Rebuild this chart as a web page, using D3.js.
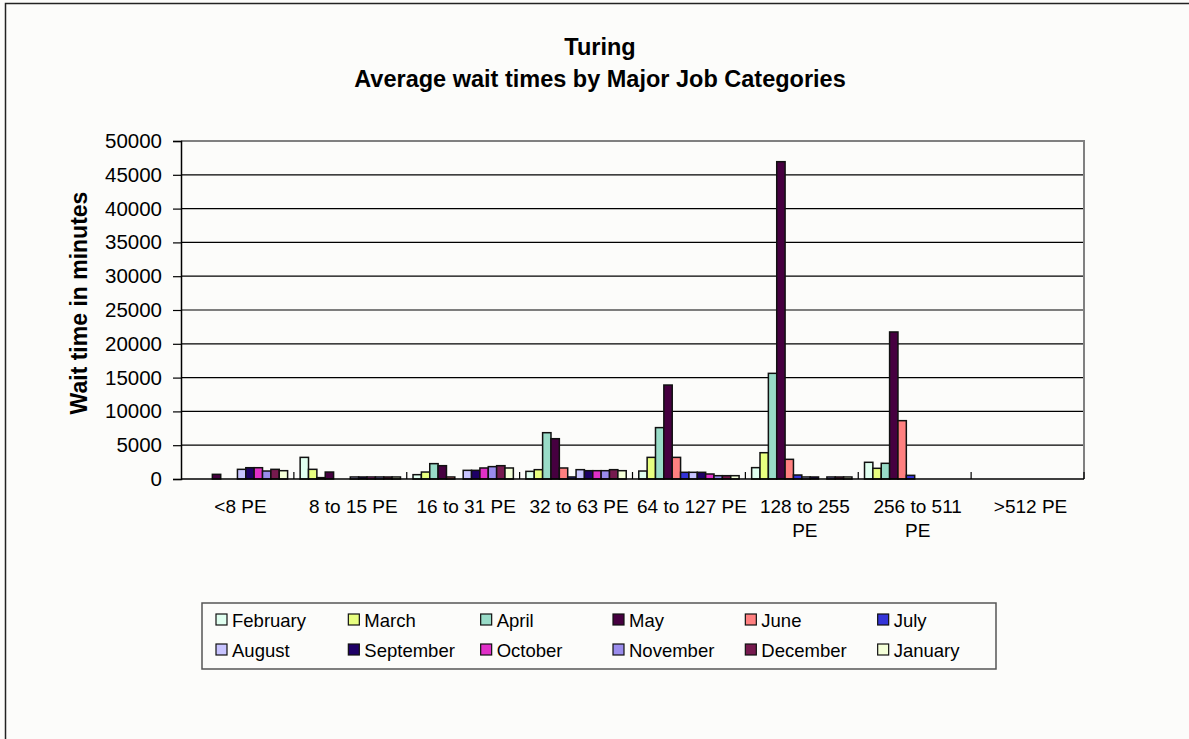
<!DOCTYPE html>
<html>
<head>
<meta charset="utf-8">
<script src="https://cdn.jsdelivr.net/npm/d3@7"></script>
<style>
  html, body { margin: 0; padding: 0; background: #fcfcfa; }
  svg { display: block; font-family: Arial, "Liberation Sans", sans-serif; }
</style>
</head>
<body>
<svg id="chart" width="1189" height="739"></svg>
<script>
// Job size categories (x axis)
const categories = ["<8 PE", "8 to 15 PE", "16 to 31 PE", "32 to 63 PE",
                    "64 to 127 PE", "128 to 255 PE", "256 to 511 PE", ">512 PE"];

// Months (series), in legend order
const months = ["February", "March", "April", "May", "June", "July",
                "August", "September", "October", "November", "December", "January"];

// Average wait time in minutes, one array per month across the categories
const february  = [0,    3200, 640,  1130, 1180,  1680,  2470,  0];
const march     = [0,    1430, 1030, 1380, 3200,  3890,  1580,  0];
const april     = [0,    200,  2270, 6850, 7600,  15630, 2320,  0];
const may       = [690,  1030, 1970, 5960, 13900, 46940, 21750, 0];
const june      = [0,    0,    300,  1630, 3200,  2910,  8630,  0];
const july      = [0,    0,    0,    300,  990,   590,   540,   0];
const august    = [1430, 300,  1280, 1380, 990,   300,   0,     0];
const september = [1670, 300,  1280, 1230, 990,   300,   0,     0];
const october   = [1670, 300,  1630, 1230, 740,   0,     0,     0];
const november  = [1180, 300,  1830, 1230, 490,   300,   0,     0];
const december  = [1430, 300,  1970, 1380, 490,   300,   0,     0];
const january   = [1230, 300,  1630, 1230, 490,   300,   0,     0];

const seriesValues = [february, march, april, may, june, july,
                      august, september, october, november, december, january];

// Y axis ticks
const yTicks = [0, 5000, 10000, 15000, 20000, 25000, 30000, 35000, 40000, 45000, 50000];

const colors = ["#e0fff0", "#e8ff80", "#99dcc8", "#460040", "#ff8080", "#3434d8",
                "#c8c4ff", "#1e0066", "#e030c8", "#9a8cec", "#761a4e", "#f4ffd8"];

const svg = d3.select("#chart");

// Outer chart frame
svg.append("rect")
  .attr("x", 5.5).attr("y", 3.5)
  .attr("width", 1200).attr("height", 760)
  .attr("fill", "#fcfcfa").attr("stroke", "#222").attr("stroke-width", 1.5);

const plot = { left: 181, right: 1084, top: 141, bottom: 479 };

const x = d3.scaleBand().domain(categories).range([plot.left, plot.right]).padding(0);
// 12 bars per group with a 150% gap width
const barW = x.bandwidth() / (months.length + 1.5);
const xInner = d3.scaleBand().domain(months)
  .range([barW * 0.75, x.bandwidth() - barW * 0.75]).padding(0);

const y = d3.scaleLinear().domain([0, 50000]).range([plot.bottom, plot.top]);

// Gridlines
svg.append("g")
  .selectAll("line")
  .data(yTicks.filter(t => t > 0 && t < 50000))
  .join("line")
  .attr("x1", plot.left).attr("x2", plot.right)
  .attr("y1", d => y(d)).attr("y2", d => y(d))
  .attr("stroke", "#000").attr("stroke-width", 1.2);

// Plot area border (top and right)
svg.append("path")
  .attr("d", `M${plot.left},${y(50000)}H${plot.right}V${plot.bottom}`)
  .attr("fill", "none").attr("stroke", "#808080").attr("stroke-width", 2);

// Bars
const groups = svg.append("g").selectAll("g")
  .data(categories)
  .join("g")
  .attr("transform", d => `translate(${x(d)},0)`);

groups.selectAll("rect")
  .data((c, ci) => months.map((m, mi) => ({ month: m, value: seriesValues[mi][ci], color: colors[mi] })))
  .join("rect")
  .filter(d => d.value > 0)
  .attr("x", d => xInner(d.month))
  .attr("width", xInner.bandwidth())
  .attr("y", d => y(d.value))
  .attr("height", d => y(0) - y(d.value))
  .attr("fill", d => d.color)
  .attr("stroke", "#111")
  .attr("stroke-width", 1.5);

// Y axis
const yAxis = svg.append("g")
  .attr("transform", `translate(${plot.left},0)`)
  .call(d3.axisLeft(y).tickValues(yTicks).tickFormat(d3.format("d")).tickSize(8).tickPadding(11));
yAxis.select(".domain").attr("stroke", "#000").attr("stroke-width", 1.5);
yAxis.selectAll(".tick line").attr("stroke", "#000").attr("stroke-width", 1.2);
yAxis.selectAll(".tick text")
  .attr("font-size", 20.5).attr("fill", "#000")
  .attr("font-family", "Arial, 'Liberation Sans', sans-serif");

// X axis with inside ticks at category boundaries
svg.append("line")
  .attr("x1", plot.left).attr("x2", plot.right)
  .attr("y1", plot.bottom).attr("y2", plot.bottom)
  .attr("stroke", "#000").attr("stroke-width", 1.5);

const boundaries = categories.map(c => x(c)).concat([plot.right]);
svg.append("g").selectAll("line")
  .data(boundaries.slice(1))
  .join("line")
  .attr("x1", d => d).attr("x2", d => d)
  .attr("y1", plot.bottom).attr("y2", plot.bottom - 7)
  .attr("stroke", "#000").attr("stroke-width", 1.2);

// Category labels, wrapped where they do not fit
const wrapLines = {
  "128 to 255 PE": ["128 to 255", "PE"],
  "256 to 511 PE": ["256 to 511", "PE"]
};
const xLabels = svg.append("g").selectAll("text")
  .data(categories)
  .join("text")
  .attr("x", d => x(d) + x.bandwidth() / 2 + 3)
  .attr("y", 513)
  .attr("text-anchor", "middle")
  .attr("font-size", 19)
  .attr("fill", "#000");
xLabels.each(function (d) {
  const lines = wrapLines[d] || [d];
  d3.select(this).selectAll("tspan")
    .data(lines)
    .join("tspan")
    .attr("x", x(d) + x.bandwidth() / 2 + 3)
    .attr("dy", (l, i) => i === 0 ? 0 : 24)
    .text(l => l);
});

// Titles
svg.append("text")
  .attr("x", 600).attr("y", 55)
  .attr("text-anchor", "middle")
  .attr("font-size", 23.5).attr("font-weight", "bold")
  .text("Turing");
svg.append("text")
  .attr("x", 600).attr("y", 87)
  .attr("text-anchor", "middle")
  .attr("font-size", 23.5).attr("font-weight", "bold")
  .text("Average wait times by Major Job Categories");

svg.append("text")
  .attr("transform", "translate(87,303) rotate(-90)")
  .attr("text-anchor", "middle")
  .attr("font-size", 23).attr("font-weight", "bold")
  .text("Wait time in minutes");

// Legend
const legend = { left: 202, top: 603, width: 794, height: 66 };
svg.append("rect")
  .attr("x", legend.left).attr("y", legend.top)
  .attr("width", legend.width).attr("height", legend.height)
  .attr("fill", "#fcfcfa").attr("stroke", "#555").attr("stroke-width", 1.5);

const colW = legend.width / 6;
const items = svg.append("g").selectAll("g")
  .data(months)
  .join("g")
  .attr("transform", (d, i) => `translate(${legend.left + 14 + (i % 6) * colW},${i < 6 ? 620 : 650})`);
items.append("rect")
  .attr("x", 0).attr("y", -6)
  .attr("width", 11).attr("height", 11)
  .attr("fill", (d, i) => colors[i])
  .attr("stroke", "#111").attr("stroke-width", 1.2);
items.append("text")
  .attr("x", 16).attr("y", 7)
  .attr("font-size", 18.5)
  .attr("fill", "#000")
  .text(d => d);
</script>
</body>
</html>
